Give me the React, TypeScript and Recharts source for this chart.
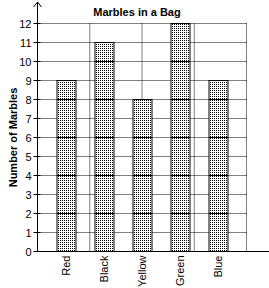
import React from 'react';
import { BarChart, Bar, XAxis, YAxis, CartesianGrid, ReferenceLine } from 'recharts';

const colors = ['Red', 'Black', 'Yellow', 'Green', 'Blue'];
const marbles = [9, 11, 8, 12, 9];
const yTicks = [0, 1, 2, 3, 4, 5, 6, 7, 8, 9, 10, 11, 12];
const gridTicks = [0, 1, 2, 3, 4, 5, 6, 7, 8, 9, 10, 11];

const data = colors.map((c, i) => ({ color: c, count: marbles[i] }));

const FONT = '"Liberation Sans", Arial, sans-serif';

const BarShape = (props: any) => {
  const { x, y, width, height, value } = props;
  const v = Array.isArray(value) ? value[1] - value[0] : value;
  const unit = v ? height / v : 0;
  const lines = [];
  for (let k = 2; k < v; k += 2) {
    const ly = y + height - k * unit;
    lines.push(<line key={k} x1={x} x2={x + width} y1={ly} y2={ly} stroke="#000" strokeWidth={1} />);
  }
  return (
    <g>
      <rect x={x} y={y} width={width} height={height} fill="url(#stipple)" stroke="#000" strokeWidth={1} />
      {lines}
    </g>
  );
};

const YTick = (props: any) => {
  const { x, y, payload } = props;
  return (
    <g>
      <line x1={x + 2} x2={x + 9} y1={y} y2={y} stroke="#000" strokeWidth={1} />
      <text x={x} y={y} textAnchor="end" dominantBaseline="central" fontSize={11} fontFamily={FONT} fill="#000">
        {payload.value}
      </text>
    </g>
  );
};

const XTick = (props: any) => {
  const { x, y, payload } = props;
  return (
    <text
      x={x}
      y={y}
      transform={`rotate(-90, ${x}, ${y})`}
      textAnchor="end"
      dominantBaseline="central"
      fontSize={11}
      fontFamily={FONT}
      fill="#000"
    >
      {payload.value}
    </text>
  );
};

const Arrow = (props: any) => {
  const { x1, y1, x2, y2 } = props;
  const dx = x2 - x1;
  const dy = y2 - y1;
  const len = Math.sqrt(dx * dx + dy * dy) || 1;
  const ux = dx / len;
  const uy = dy / len;
  const px = -uy;
  const py = ux;
  const bx = x2 - ux * 5;
  const by = y2 - uy * 5;
  return (
    <g>
      <line x1={x1} y1={y1} x2={x2} y2={y2} stroke="#000" strokeWidth={1} />
      <polyline
        points={`${bx + px * 4},${by + py * 4} ${x2},${y2} ${bx - px * 4},${by - py * 4}`}
        fill="none"
        stroke="#000"
        strokeWidth={1}
      />
    </g>
  );
};

export default function App() {
  return (
    <div style={{ position: 'absolute', left: 0, top: 0, width: 269, height: 288, background: '#fff' }}>
      <div
        style={{
          position: 'absolute',
          left: 37,
          width: 200,
          top: 6,
          textAlign: 'center',
          fontFamily: FONT,
          fontWeight: 'bold',
          fontSize: 11,
          lineHeight: '13px',
          color: '#000',
        }}
      >
        Marbles in a Bag
      </div>
      <BarChart
        width={269}
        height={288}
        data={data}
        margin={{ top: 23.5, right: 22.5, left: 0, bottom: 0 }}
        barSize={19}
      >
        <defs>
          <pattern id="stipple" x={0} y={0} width={2} height={2} patternUnits="userSpaceOnUse">
            <rect x={0} y={0} width={2} height={2} fill="#fff" />
            <rect x={0} y={0} width={1} height={1} fill="#000" />
          </pattern>
        </defs>
        <CartesianGrid xAxisId="g" stroke="#000" strokeDasharray="1 1" />
        <XAxis
          dataKey="color"
          height={36.5}
          padding={{ left: 9.5, right: 9.5 }}
          axisLine={false}
          tickLine={false}
          tickSize={4}
          tickMargin={0}
          interval={0}
          tick={<XTick />}
        />
        <XAxis xAxisId="g" type="number" domain={[0, 11]} ticks={gridTicks} allowDataOverflow hide />
        <YAxis
          width={37.5}
          domain={[0, 12]}
          ticks={yTicks}
          interval={0}
          axisLine={false}
          tickLine={false}
          tickSize={4}
          tickMargin={2}
          tick={<YTick />}
          label={{
            value: 'Number of Marbles',
            angle: -90,
            position: 'center',
            dx: -5.75,
            style: { fontFamily: FONT, fontWeight: 'bold', fontSize: 11, fill: '#000' },
          }}
        />
        <Bar dataKey="count" shape={<BarShape />} isAnimationActive={false} />
        <ReferenceLine
          xAxisId="g"
          segment={[{ x: 0, y: 0 }, { x: 0, y: 13.13 }]}
          ifOverflow="visible"
          shape={<Arrow />}
        />
        <ReferenceLine
          xAxisId="g"
          segment={[{ x: 0, y: 0 }, { x: 12, y: 0 }]}
          ifOverflow="visible"
          shape={<Arrow />}
        />
      </BarChart>
    </div>
  );
}
